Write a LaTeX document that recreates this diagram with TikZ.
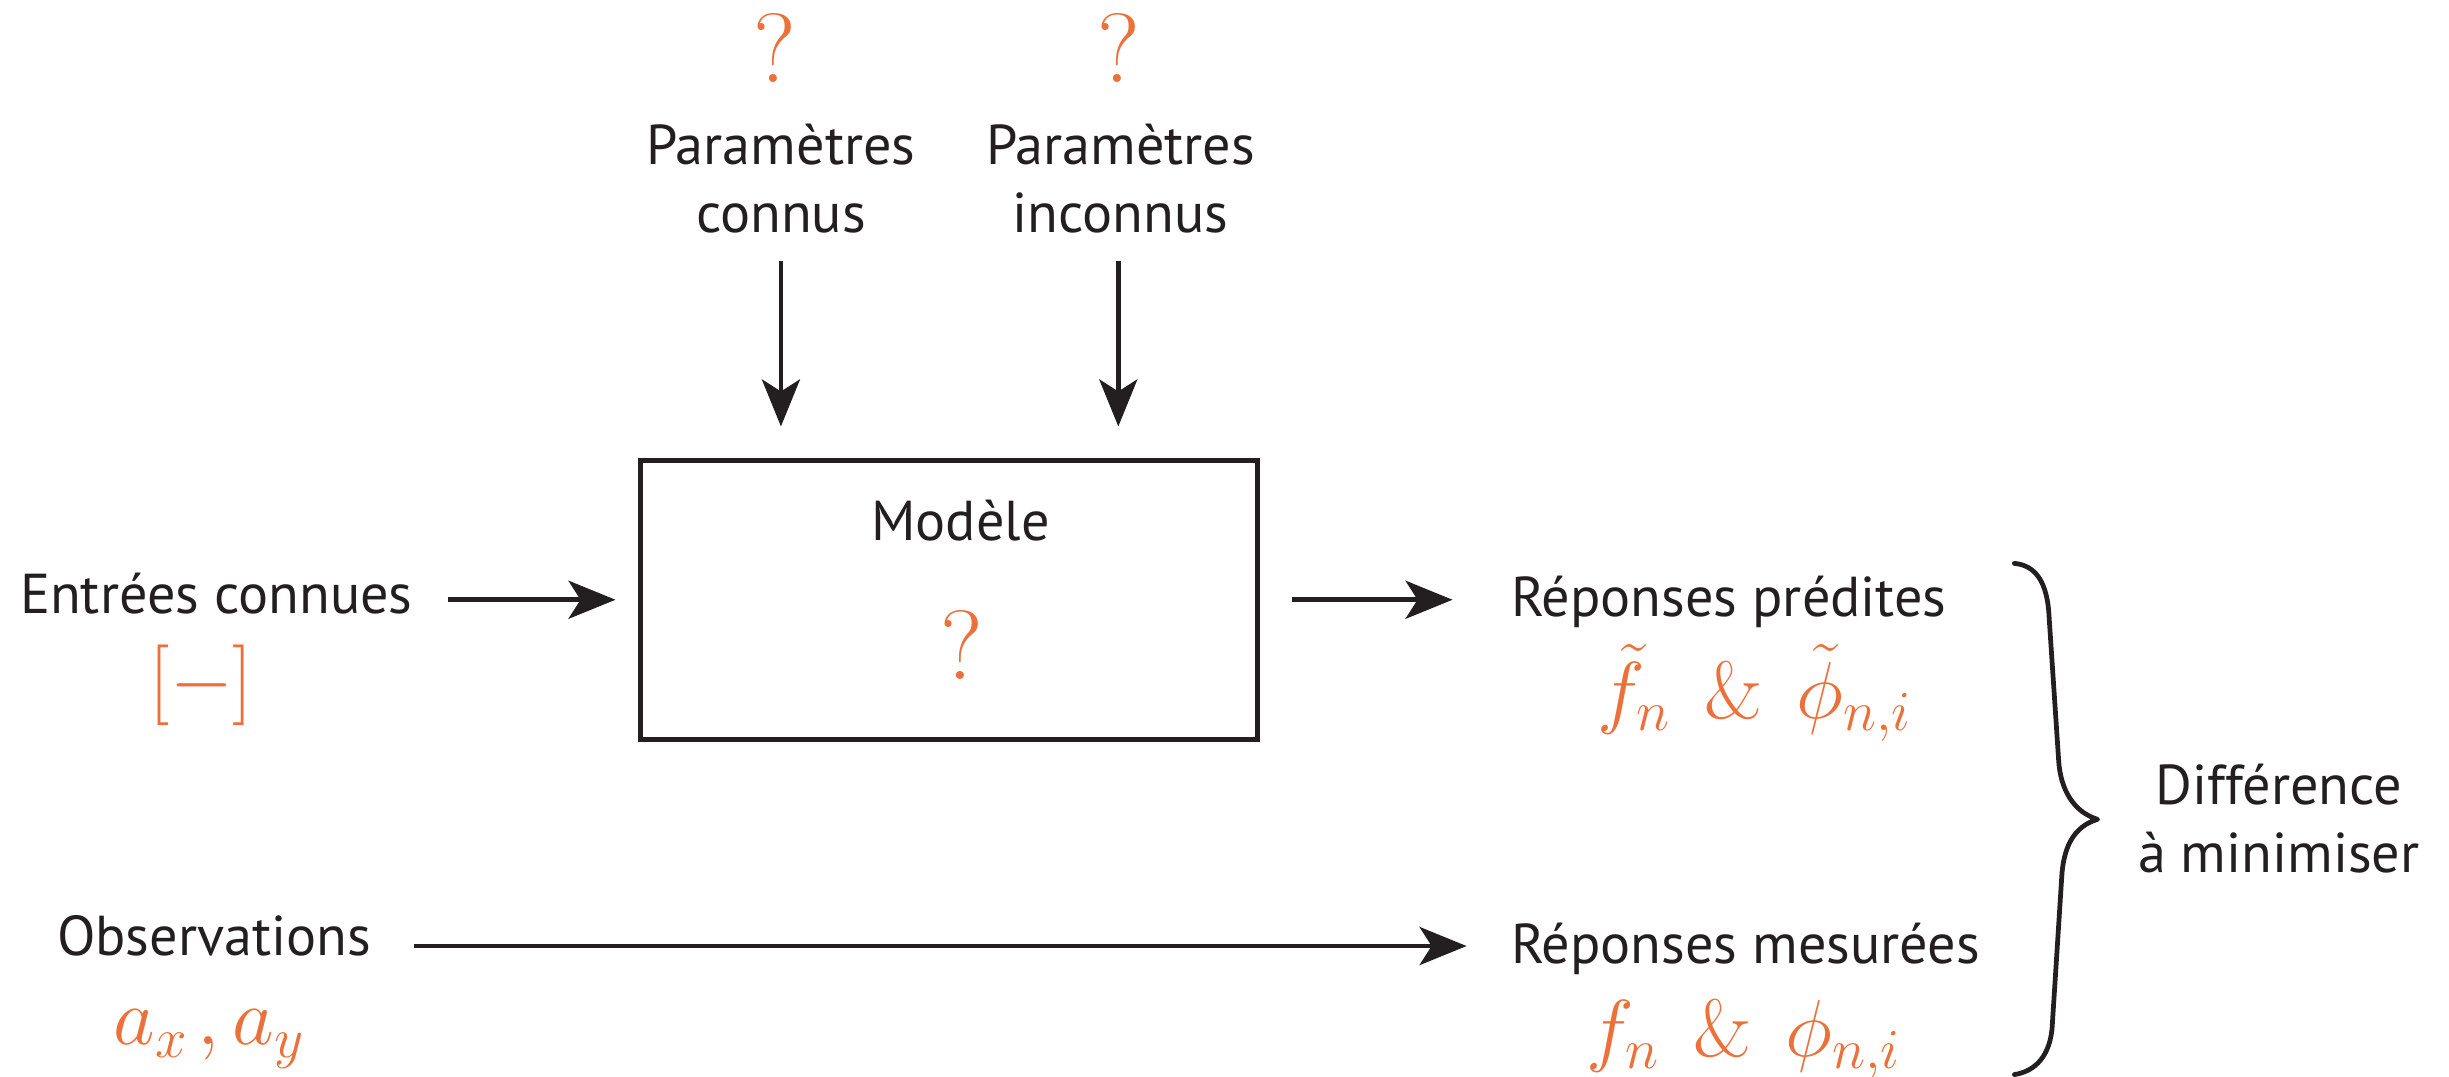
\RequirePackage{fix-cm}
\documentclass[tikz,border=0pt]{standalone}
\usepackage[no-math]{fontspec}
\setmainfont{PT Sans}
\usetikzlibrary{arrows.meta,calc}

\definecolor{ink}{RGB}{35,31,32}
\definecolor{accent}{RGB}{236,112,58}

\newcommand{\ampgap}{\mkern7.5mu}

\tikzset{
  txt/.style={font=\fontsize{16}{19.3}\selectfont, text=ink, inner sep=0pt, align=center},
  formula/.style={font=\fontsize{23}{27}\selectfont, text=accent, inner sep=0pt},
  qmark/.style={font=\fontsize{28}{32}\selectfont, text=accent, inner sep=0pt},
  flow/.style={draw=ink, line width=1.35pt, -{Stealth[length=4.7mm,width=3.8mm,inset=1.2mm]}},
  modelbox/.style={draw=ink, line width=1.5pt, minimum width=6.171cm, minimum height=2.79cm, inner sep=0pt},
  bracestroke/.style={draw=ink, line width=1.35pt, line cap=round, line join=round},
}

\begin{document}
\begin{tikzpicture}[x=0.015619cm, y=-0.015619cm]
\useasboundingbox (0,0) rectangle (1568,689);

% parameters feeding the model from above (base = last line)
\node[qmark, anchor=base] (qknown) at (496,53) {$?$};
\node[qmark, anchor=base] (qunknown) at (716,53) {$?$};
\node[txt, anchor=base] (pknown) at (500,149) {Paramètres\\connus};
\node[txt, anchor=base] (punknown) at (717.5,149) {Paramètres\\inconnus};

% the model
\node[modelbox] (model) at (607.75,384) {};
\node[txt, anchor=base] (modeltitle) at (615,346) {Modèle};
\node[qmark, anchor=base] (qmodel) at (616,435) {$?$};

% inputs and observations
\node[txt, anchor=base] (inputs) at (138.5,393) {Entrées connues};
\node[formula, anchor=base] (inputsym) at (129,452) {$[-]$};
\node[txt, anchor=base] (obs) at (137,612) {Observations};
\node[formula, anchor=base] (obssym) at (134,669) {$a_x\mkern2mu, a_y$};

% predicted and measured responses
\node[txt, anchor=base west] (pred) at (967,394.7) {Réponses prédites};
\node[formula, anchor=base] (predsym) at (1123.5,460) {$\tilde{f}_n\ampgap\&\ampgap\tilde{\phi}_{n,i}$};
\node[txt, anchor=base west] (meas) at (967,617) {Réponses mesurées};
\node[formula, anchor=base] (meassym) at (1116.5,676.6) {$f_n\ampgap\&\ampgap\phi_{n,i}$};

\node[txt, anchor=base] (diff) at (1459,558.7) {Différence\\à minimiser};

% connectors
\draw[flow] ($(pknown.south)+(0,17)$) -- ($(pknown.south |- model.north)+(0,-20)$);
\draw[flow] ($(punknown.south)+(-1.5,17)$) -- ($(punknown.south |- model.north)+(-1.5,-20)$);
\draw[flow] ($(inputs.east |- model.west)+(22,0)$) -- ($(model.west)+(-14.5,0)$);
\draw[flow] ($(model.east)+(20,0)$) -- ($(model.east -| pred.west)+(-37,0)$);
\draw[flow] ($(obs.base east)+(27,-6.3)$) -- ($(obs.base east -| meas.west)+(-28,-6.3)$);

% curly brace grouping both responses
\draw[bracestroke] (1289.7,360.7)
  .. controls (1303,362) and (1311,372) .. (1312,396)
  -- (1318,486)
  .. controls (1319,506) and (1328,520) .. (1343,524.6)
  .. controls (1328,529) and (1321,542) .. (1320,562)
  -- (1314,656)
  .. controls (1313,676) and (1303,686) .. (1289.7,688);
\end{tikzpicture}
\end{document}
